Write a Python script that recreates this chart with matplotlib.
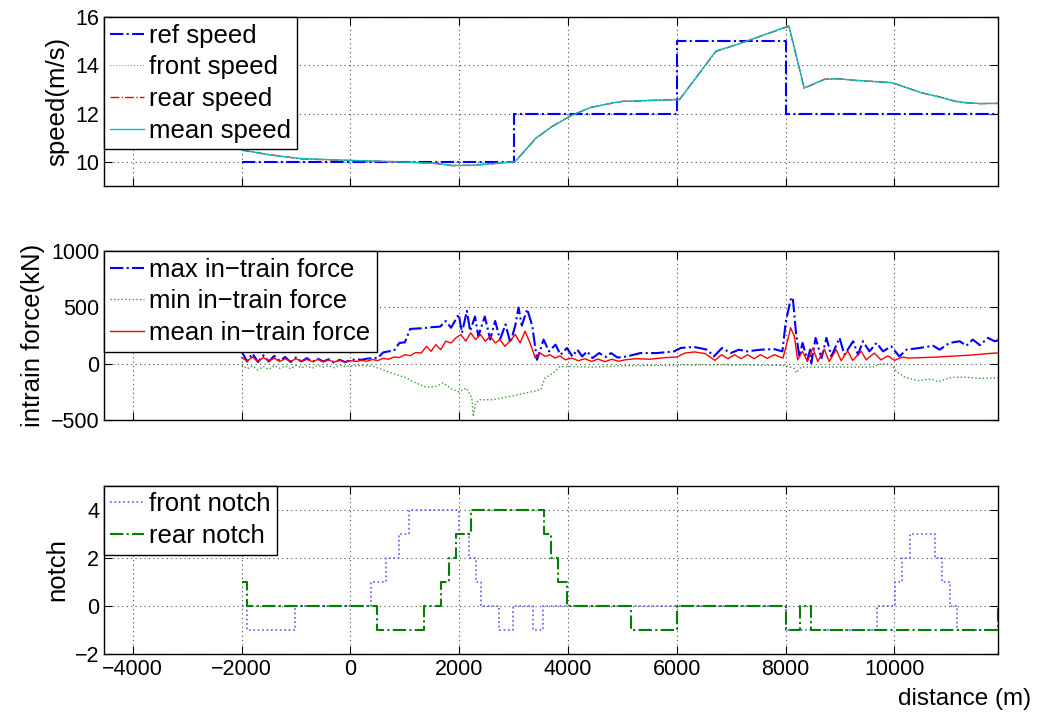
import matplotlib
matplotlib.use('Agg')
import matplotlib.pyplot as plt

plt.rcParams['font.family'] = ['Liberation Sans', 'DejaVu Sans']

# --- speed panel data ---
ref_dist = [-2000, 3000, 6000, 8000, 12000]
ref_speed = [10, 12, 15, 12, 12]

speed_dist = [-2000, -1500, -900, 0, 950, 1550, 1870, 2240, 2800, 3030, 3410, 3700,
              4030, 4400, 4830, 5000, 5390, 6050, 6720, 7120, 8060, 8340, 8720, 8960,
              9300, 9950, 10510, 10800, 11130, 11300, 11560, 12000]
front_speed = [10.50, 10.29, 10.13, 10.06, 9.99, 9.94, 9.85, 9.85, 9.96, 10.01, 10.99, 11.45,
               11.89, 12.24, 12.45, 12.50, 12.54, 12.58, 14.60, 14.87, 15.64, 13.07, 13.42, 13.44,
               13.38, 13.28, 12.86, 12.70, 12.51, 12.45, 12.42, 12.42]
rear_speed = [10.48, 10.30, 10.12, 10.05, 10.00, 9.93, 9.84, 9.86, 9.95, 10.02, 10.97, 11.46,
              11.88, 12.25, 12.44, 12.51, 12.53, 12.59, 14.58, 14.88, 15.62, 13.05, 13.43, 13.45,
              13.37, 13.29, 12.85, 12.71, 12.50, 12.46, 12.41, 12.43]
mean_speed = [10.50, 10.29, 10.13, 10.06, 9.99, 9.94, 9.85, 9.85, 9.96, 10.01, 10.99, 11.45,
              11.89, 12.24, 12.45, 12.50, 12.54, 12.58, 14.60, 14.87, 15.64, 13.07, 13.42, 13.44,
              13.38, 13.28, 12.86, 12.70, 12.51, 12.45, 12.42, 12.42]

# --- in-train force data (kN) ---
max_dist = [-2000, -1900, -1800, -1700, -1600, -1500, -1400, -1300, -1200, -1100, -1000,
            -900, -800, -700, -600, -500, -400, -300, -200, -100, 0, 100, 200, 300, 400,
            500, 600, 700, 800, 900, 1000, 1100, 1300, 1500, 1650, 1750, 1850, 1990, 2050,
            2140, 2200, 2290, 2350, 2470, 2570, 2660, 2750, 2850, 2940, 3030, 3090, 3150,
            3250, 3340, 3430, 3550, 3650, 3770, 3860, 3980, 4080, 4170, 4260, 4350, 4450,
            4570, 4700, 4790, 4910, 5080, 5330, 5640, 5950, 6070, 6310, 6560, 6680, 6830,
            6990, 7140, 7290, 7540, 7790, 7940, 8000, 8090, 8130, 8190, 8250, 8310, 8400,
            8450, 8470, 8550, 8660, 8750, 8840, 8990, 9080, 9240, 9330, 9420, 9540, 9670,
            9790, 9940, 10090, 10220, 10460, 10710, 10830, 11010, 11200, 11320, 11440,
            11570, 11720, 11840, 12000]
max_force = [110, 20, 90, 15, 75, 20, 70, 25, 60, 15, 55,
             20, 50, 15, 45, 20, 40, 10, 35, 15, 30, 40, 35, 45, 50,
             50, 100, 110, 115, 185, 190, 310, 315, 325, 330, 380, 320, 440, 275,
             470, 290, 420, 245, 420, 215, 380, 215, 350, 185, 340, 500, 340,
             485, 340, 35, 215, 110, 170, 80, 140, 65, 125, 65, 110, 50,
             95, 60, 95, 55, 65, 95, 95, 110, 140, 150, 125, 65, 140,
             95, 125, 110, 125, 130, 110, 365, 570, 590, 275, 65, 185, 35,
             125, 5, 230, 50, 230, 65, 230, 80, 200, 80, 200, 110, 185,
             110, 155, 65, 125, 140, 160, 125, 185, 200, 160, 215,
             165, 230, 200, 220]

min_dist = [-2000, -1900, -1800, -1700, -1600, -1500, -1400, -1300, -1200, -1100, -1000,
            -900, -800, -700, -600, -500, -400, -300, -200, -100, 0, 200, 400, 600, 800,
            1000, 1200, 1400, 1580, 1700, 1880, 2000, 2130, 2230, 2260, 2300, 2380, 2620,
            2930, 3230, 3500, 3570, 3720, 3850, 4030, 4450, 4950, 5500, 6000, 6050, 7000,
            8000, 8150, 8200, 8280, 9000, 9600, 9760, 9940, 10040, 10190, 10430, 10680,
            10800, 11050, 11300, 11550, 12000]
min_force = [-10, -45, -20, -55, -25, -50, -15, -40, -20, -45, -15,
             -35, -20, -40, -15, -30, -20, -35, -15, -25, -20, -15, -20, -55, -90,
             -120, -170, -210, -200, -170, -230, -250, -215, -300, -470, -350, -320, -320,
             -290, -260, -230, -130, -85, -25, -25, -30, -18, -15, -15, -10, -10,
             -15, -40, -80, -30, -30, -30, 0, -5, -70, -120, -150, -135,
             -160, -120, -120, -130, -125]

mean_dist = [-2000, -1900, -1800, -1700, -1600, -1500, -1400, -1300, -1200, -1100, -1000,
             -900, -800, -700, -600, -500, -400, -300, -200, -100, 0, 100, 200, 300, 400,
             500, 600, 700, 800, 900, 1000, 1100, 1200, 1300, 1400, 1480, 1570, 1660, 1750,
             1850, 1940, 2030, 2120, 2210, 2300, 2390, 2480, 2570, 2660, 2750, 2840, 2930,
             3030, 3120, 3210, 3300, 3400, 3490, 3580, 3670, 3760, 3850, 3950, 4070, 4190,
             4310, 4430, 4550, 4680, 4800, 4930, 5050, 5250, 5500, 5800, 6000, 6150, 6330,
             6520, 6700, 6820, 6940, 7060, 7180, 7300, 7420, 7540, 7660, 7790, 7950, 8040,
             8090, 8160, 8220, 8310, 8400, 8500, 8590, 8710, 8800, 8930, 9020, 9140, 9230,
             9390, 9480, 9630, 9750, 9880, 10000, 10150, 10250, 10800, 11400, 11840, 12000]
mean_force = [55, 25, 60, 20, 55, 25, 50, 20, 45, 20, 45,
              20, 40, 18, 38, 18, 35, 15, 32, 15, 28, 20, 30, 22, 38,
              28, 48, 40, 60, 55, 80, 72, 100, 95, 155, 110, 170, 125, 200,
              185, 230, 260, 200, 275, 215, 260, 200, 245, 185, 215, 155, 200,
              260, 185, 290, 185, 50, 95, 65, 80, 50, 70, 35, 50, 27,
              45, 20, 42, 18, 40, 22, 35, 45, 40, 55, 60, 95, 105,
              90, 30, 80, 45, 80, 45, 80, 45, 80, 48, 80, 50, 215,
              320, 245, 35, 110, 20, 140, 20, 130, 20, 125, 27, 115, 30,
              110, 35, 95, 35, 70, 30, 60, 50, 60, 77, 95, 95]

# --- notch data (step values, held until next breakpoint) ---
front_notch_dist = [-2000, -1904, -1014, 369, 645, 890, 1075, 1996, 2180, 2304, 2396, 2733,
                    2980, 3349, 3533, 7999, 9688, 10014, 10137, 10290, 10739, 10874, 11027,
                    11150, 12000]
front_notch = [0, -1, 0, 1, 2, 3, 4, 3, 2, 1, 0, -1,
               0, -1, 0, -1, 0, 1, 2, 3, 2, 1, 0,
               -1, -1]
rear_notch_dist = [-2000, -1904, 492, 1351, 1659, 1812, 1935, 2212, 3551, 3686, 3809, 3975,
                   5160, 6003, 7999, 8262, 8465, 11906, 12000]
rear_notch = [1, 0, -1, 0, 1, 2, 3, 4, 3, 2, 1, 0,
              -1, 0, -1, 0, -1, 0, 0]

xlim = (-4530, 11900)
xticks = [-4000, -2000, 0, 2000, 4000, 6000, 8000, 10000]

fig = plt.figure(figsize=(10.43, 7.15), dpi=100)
left, width = 0.0997, 0.857
ax1 = fig.add_axes([left, 0.740, width, 0.236])
ax2 = fig.add_axes([left, 0.4126, width, 0.236])
ax3 = fig.add_axes([left, 0.0853, width, 0.235])

green = (0, 0.5, 0)

ax1.plot(ref_dist, ref_speed, '-.', color='b', lw=1.5, drawstyle='steps-post', label='ref speed')
ax1.plot(speed_dist, front_speed, ':', color=green, lw=0.8, alpha=0.6, label='front speed')
ax1.plot(speed_dist, rear_speed, '-.', color='r', lw=1, label='rear speed')
ax1.plot(speed_dist, mean_speed, '-', color='c', lw=1, label='mean speed')
ax1.set_ylim(9, 16)
ax1.set_yticks([10, 12, 14, 16])
ax1.set_ylabel('speed(m/s)')

ax2.plot(max_dist, max_force, '-.', color='b', lw=1.5, label='max in\u2212train force')
ax2.plot(min_dist, min_force, ':', color=green, lw=1, alpha=0.8, label='min in\u2212train force')
ax2.plot(mean_dist, mean_force, '-', color='r', lw=1, label='mean in\u2212train force')
ax2.set_ylim(-500, 1000)
ax2.set_yticks([-500, 0, 500, 1000])
ax2.set_ylabel('intrain force(kN)')

ax3.plot(front_notch_dist, front_notch, ':', color='#5a5aff', lw=1.2, drawstyle='steps-post',
         label='front notch')
ax3.plot(rear_notch_dist, rear_notch, '-.', color=green, lw=1.5, drawstyle='steps-post',
         label='rear notch')
ax3.set_ylim(-2, 5)
ax3.set_yticks([-2, 0, 2, 4])
ax3.set_ylabel('notch')
ax3.set_xlabel('distance (m)')
ax3.xaxis.set_label_coords(0.963, -0.20)

for ax in (ax1, ax2, ax3):
    ax.set_xlim(*xlim)
    ax.set_xticks(xticks)
    ax.grid(True, linestyle=(0, (1, 3)), color='0.3', linewidth=0.8)
    ax.tick_params(direction='in', top=True, right=True, length=6, width=0.8, labelsize=15.5)
    ax.yaxis.label.set_size(18.5)
    ax.xaxis.label.set_size(17.5)
    for s in ax.spines.values():
        s.set_linewidth(1.0)
    leg = ax.legend(loc='upper left', borderaxespad=0, fancybox=False, edgecolor='k',
                    framealpha=1, fontsize=18.5, handlelength=1.3, handletextpad=0.2,
                    labelspacing=0.3, borderpad=0.25)
    leg.get_frame().set_linewidth(1.0)

ax1.tick_params(labelbottom=False)
ax2.tick_params(labelbottom=False)

fig.savefig('out.png', dpi=100)
